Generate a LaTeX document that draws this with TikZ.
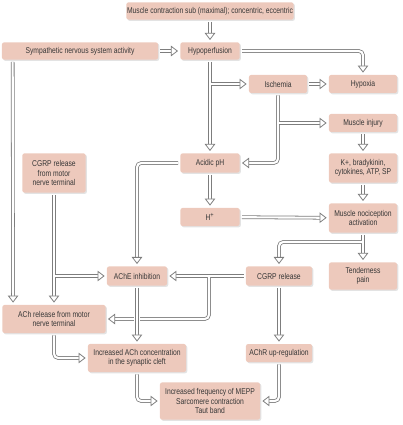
\documentclass[tikz,border=0pt]{standalone}
\usepackage{fontspec}
\setmainfont{Liberation Sans}[FakeStretch=0.8]
\usepackage{tikz}
\usetikzlibrary{arrows.meta,shadows}
\definecolor{boxfill}{RGB}{237,201,188}
\definecolor{linegray}{RGB}{125,125,125}
\definecolor{txtgray}{RGB}{55,55,55}

\begin{document}
\begin{tikzpicture}[x=0.025cm,y=-0.025cm,
    box/.style={fill=boxfill,rounded corners=1.5pt,align=center,inner sep=0pt,
      text=txtgray,font=\fontsize{6}{6.8}\selectfont,
      drop shadow={shadow xshift=0.9pt,shadow yshift=-0.9pt,fill=black!22}},
    flow/.style={draw=linegray,line width=0.55pt,double=white,double distance=1.5pt,
      rounded corners=3pt,shorten <=1.5pt,shorten >=1.5pt,
      -{Triangle[open,length=5pt,width=7.5pt,line width=0.55pt,fill=white]}},
    mend/.style={draw=white,line width=1.5pt},
    over/.style={preaction={draw=white,line width=4.5pt,-}}]
    \useasboundingbox (0,0) rectangle (402,425);

    % boxes
    \node[box,minimum width=4.18cm,minimum height=0.43cm] (musc) at (210,11) {Muscle contraction sub (maximal); concentric, eccentric};
    \node[box,minimum width=3.9cm,minimum height=0.43cm] (symp) at (80,51) {Sympathetic nervous system activity};
    \node[box,minimum width=1.48cm,minimum height=0.43cm] (hypo) at (210,51) {Hypoperfusion};
    \node[box,minimum width=1.45cm,minimum height=0.45cm] (isch) at (278,84) {Ischemia};
    \node[box,minimum width=1.7cm,minimum height=0.45cm] (hypox) at (363,84) {Hypoxia};
    \node[box,minimum width=1.7cm,minimum height=0.45cm] (injury) at (363,123) {Muscle injury};
    \node[box,minimum width=1.48cm,minimum height=0.48cm] (acid) at (210,163) {Acidic pH};
    \node[box,minimum width=1.58cm,minimum height=0.98cm] (cgrpm) at (54,173) {CGRP release\\from motor\\nerve terminal};
    \node[box,minimum width=1.7cm,minimum height=0.73cm] (kplus) at (363,168) {K+, bradykinin,\\cytokines, ATP, SP};
    \node[box,minimum width=1.48cm,minimum height=0.45cm] (hplus) at (210,217) {H\textsuperscript{+}};
    \node[box,minimum width=1.7cm,minimum height=0.73cm] (noci) at (363,218) {Muscle nociception\\activation};
    \node[box,minimum width=1.5cm,minimum height=0.48cm] (ache) at (137,276) {AChE inhibition};
    \node[box,minimum width=1.65cm,minimum height=0.48cm] (cgrp) at (279,276) {CGRP release};
    \node[box,minimum width=1.7cm,minimum height=0.68cm] (tend) at (363,276) {Tenderness\\pain};
    \node[box,minimum width=2.58cm,minimum height=0.7cm] (achrel) at (54,319) {ACh release from motor\\nerve terminal};
    \node[box,minimum width=2.45cm,minimum height=0.7cm] (incach) at (137,358) {Increased ACh concentration\\in the synaptic cleft};
    \node[box,minimum width=1.65cm,minimum height=0.45cm] (achr) at (279,353) {AChR up-regulation};
    \node[box,minimum width=2.5cm,minimum height=0.93cm] (final) at (210,401) {Increased frequency of MEPP\\Sarcomere contraction\\Taut band};

    % connectors
    \draw[flow] (musc) -- (hypo);
    \draw[flow] (symp) -- (hypo);
    \draw[flow] (hypo.east) -| (hypox.north);
    \draw[flow] (hypo) -- (acid);
    \draw[flow,shorten <=0pt] (210,84) -- (isch.west);
    \draw[mend] (210,79) -- (210,89);
    \draw[flow] (isch) -- (hypox);
    \draw[flow] (isch.south) |- (acid.east);
    \draw[flow,shorten <=0pt] (278,123) -- (injury.west);
    \draw[mend] (278,118) -- (278,128);
    \draw[flow] (injury) -- (kplus);
    \draw[flow] (kplus) -- (noci);
    \draw[flow] (acid) -- (hplus);
    \draw[flow] (hplus) -- (noci);
    \draw[flow] (acid.west) -| (ache.north);
    \draw[flow] (noci) -- (tend);
    \draw[flow,shorten <=0pt] (363,242) -| (cgrp.north);
    \draw[mend] (363,237) -- (363,247);
    \draw[flow] (cgrp) -- (ache);
    \draw[flow,shorten <=0pt] (209,276) |- (achrel.east);
    \draw[mend] (204,276) -- (214,276);
    \draw[flow] ([xshift=7.8pt]symp.south west) -- ([xshift=7.8pt]achrel.north west);
    \draw[flow] (cgrpm) -- (achrel);
    \draw[flow,shorten <=0pt] (54,276) -- (ache.west);
    \draw[mend] (54,271) -- (54,281);
    \draw[flow,over] (ache) -- (incach);
    \draw[flow] (cgrp) -- (achr);
    \draw[flow] (achrel.south) |- (incach.west);
    \draw[flow] (incach.south) |- (final.west);
    \draw[flow] (achr.south) |- (final.east);
\end{tikzpicture}
\end{document}
